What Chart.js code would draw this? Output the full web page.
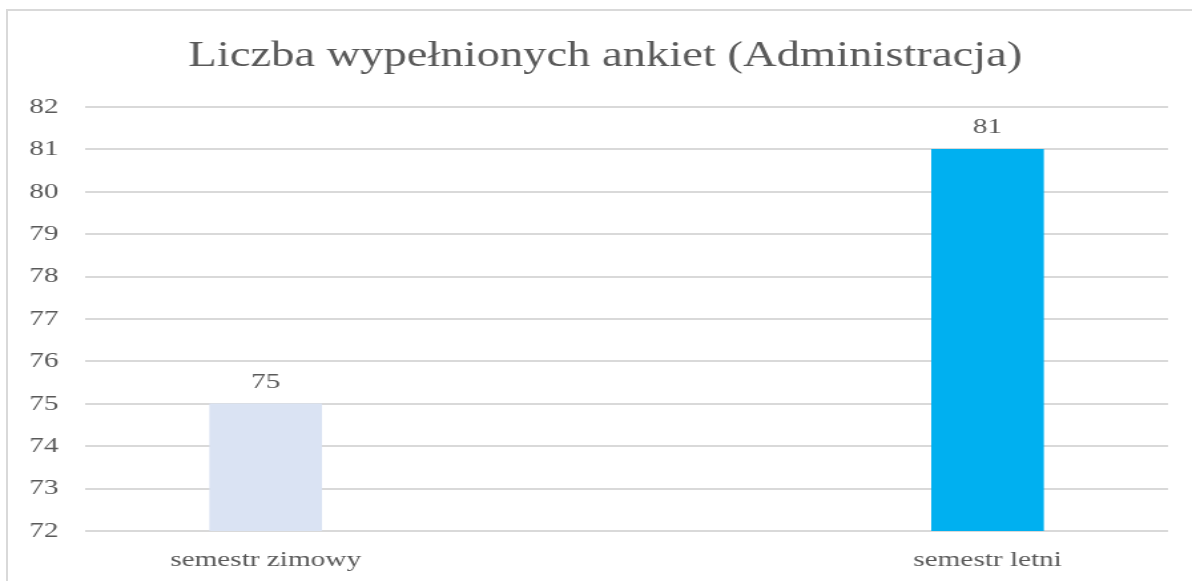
<!DOCTYPE html>
<html>
<head>
<meta charset="utf-8">
<script src="https://cdn.jsdelivr.net/npm/chart.js@4.4.1/dist/chart.umd.min.js"></script>
<style>
    html, body { margin: 0; padding: 0; background: #fff; }
    #wrap { position: relative; width: 1192px; height: 581px; }
    #frame {
        position: absolute; left: 6px; top: 9px; right: 0; bottom: 0;
        border-left: 2px solid #d9d9d9; border-top: 2px solid #d9d9d9;
        pointer-events: none;
    }
</style>
</head>
<body>
<div id="wrap">
    <!-- drawn at 896px wide and stretched to 1192px, like the wide source picture -->
    <canvas id="chart" width="896" height="581" style="width:1192px;height:581px"></canvas>
    <div id="frame"></div>
</div>
<script>
// Chart data
const categories = ['semestr zimowy', 'semestr letni'];
const surveyCounts = [75, 81];
const barColors = ['#dae3f3', '#00b0f0'];
const yTicks = [72, 73, 74, 75, 76, 77, 78, 79, 80, 81, 82];

const TEXT_COLOR = '#595959';
const SERIF = '"Liberation Serif", "Times New Roman", serif';
const TITLE_CENTER_X = 455;

// Draws the value above each bar (no datalabels plugin available)
const valueLabels = {
    id: 'valueLabels',
    afterDatasetsDraw(chart) {
        const ctx = chart.ctx;
        const meta = chart.getDatasetMeta(0);
        ctx.save();
        ctx.font = '22px ' + SERIF;
        ctx.fillStyle = TEXT_COLOR;
        ctx.textAlign = 'center';
        ctx.textBaseline = 'bottom';
        meta.data.forEach((bar, i) => {
            ctx.fillText(String(surveyCounts[i]), bar.x, bar.y - 11);
        });
        ctx.restore();
    }
};

// Title in the source sits a bit left of the plot centre
const titleShift = {
    id: 'titleShift',
    afterLayout(chart) {
        const t = chart.titleBlock;
        if (t) t.left = 2 * TITLE_CENTER_X - t.right;
    }
};

const ctx = document.getElementById('chart').getContext('2d');
const chart = new Chart(ctx, {
    type: 'bar',
    data: {
        datasets: [{
            label: 'Liczba ankiet',
            data: surveyCounts.map((v, i) => ({ x: i, y: v })),
            backgroundColor: barColors,
            borderWidth: 0,
            barThickness: 84
        }]
    },
    options: {
        responsive: false,
        animation: false,
        layout: {
            padding: { left: 20, right: 18, top: 0, bottom: 0 }
        },
        plugins: {
            legend: { display: false },
            tooltip: { enabled: false },
            title: {
                display: true,
                text: 'Liczba wypełnionych ankiet (Administracja)',
                color: TEXT_COLOR,
                font: { family: SERIF, size: 35, weight: 'normal' },
                padding: { top: 36, bottom: 29 }
            }
        },
        scales: {
            x: {
                type: 'linear',
                offset: false,
                min: -0.25,
                max: 1.25,
                grid: { display: false, drawTicks: false },
                border: { display: false },
                afterBuildTicks(scale) {
                    scale.ticks = categories.map((c, i) => ({ value: i }));
                },
                afterFit(scale) {
                    scale.height = 50;
                },
                ticks: {
                    padding: 16,
                    color: TEXT_COLOR,
                    font: { family: SERIF, size: 22 },
                    callback: (value) => categories[value]
                }
            },
            y: {
                min: yTicks[0],
                max: yTicks[yTicks.length - 1],
                grid: { color: '#d9d9d9', lineWidth: 2, drawTicks: false },
                border: { display: false },
                afterBuildTicks(scale) {
                    scale.ticks = yTicks.map(v => ({ value: v }));
                },
                afterFit(scale) {
                    scale.width = 44;
                },
                ticks: {
                    padding: 20,
                    color: TEXT_COLOR,
                    font: { family: SERIF, size: 22 }
                }
            }
        }
    },
    plugins: [valueLabels, titleShift]
});
</script>
</body>
</html>
